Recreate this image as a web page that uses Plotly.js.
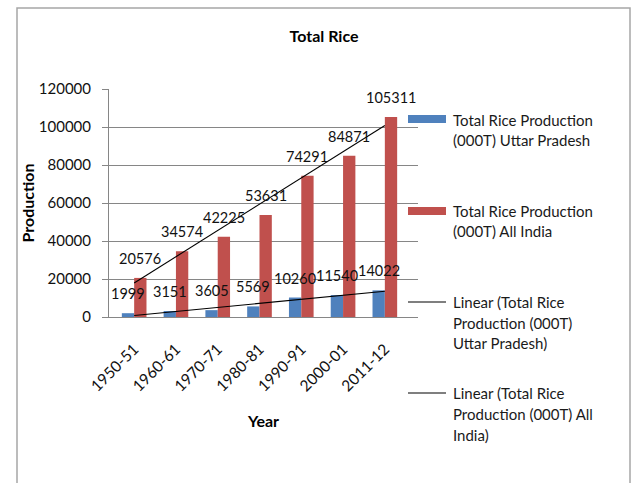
<!DOCTYPE html>
<html>
<head>
<meta charset="utf-8">
<script src="https://cdn.plot.ly/plotly-3.0.1.min.js"></script>
<style>html,body{margin:0;padding:0;background:#fff;}#chart{width:632px;height:483px;}</style>
</head>
<body>
<div id="chart"></div>
<script>
// ---- data ----
const categories = ["1950-51", "1960-61", "1970-71", "1980-81", "1990-91", "2000-01", "2011-12"];
const upValues = [1999, 3151, 3605, 5569, 10260, 11540, 14022];
const indiaValues = [20576, 34574, 42225, 53631, 74291, 84871, 105311];
const upName = "Total Rice Production (000T) Uttar Pradesh";
const indiaName = "Total Rice Production (000T) All India";
const yTicks = [0, 20000, 40000, 60000, 80000, 100000, 120000];

// least-squares linear trend (as Excel's "Linear" trendline), x = 1..n
function linearTrend(vals) {
  const n = vals.length;
  let sx = 0, sy = 0, sxy = 0, sxx = 0;
  vals.forEach((v, i) => { const x = i + 1; sx += x; sy += v; sxy += x * v; sxx += x * x; });
  const b = (n * sxy - sx * sy) / (n * sxx - sx * sx);
  const a = (sy - b * sx) / n;
  return vals.map((v, i) => a + b * (i + 1));
}

const W = 632, H = 483;
const M = {l: 109, r: 214, t: 89, b: 166};
const PW = W - M.l - M.r, PH = H - M.t - M.b;
const px = x => (x - M.l) / PW;
const py = y => (H - M.b - y) / PH;

const FONT = "Lato, 'Open Sans', sans-serif";
const BLUE = "#4F81BD", RED = "#C0504D";
const bargap = 0.41;
const half = (1 - bargap) / 4; // offset of each bar centre from category centre

const traces = [
  {type: "bar", x: categories, y: upValues, name: upName, marker: {color: BLUE}, showlegend: false, hoverinfo: "x+y"},
  {type: "bar", x: categories, y: indiaValues, name: indiaName, marker: {color: RED}, showlegend: false, hoverinfo: "x+y"},
  {type: "scatter", mode: "lines", x: categories, y: linearTrend(upValues), name: "Linear (" + upName + ")",
   line: {color: "#000", width: 1.1}, showlegend: false, hoverinfo: "skip"},
  {type: "scatter", mode: "lines", x: categories, y: linearTrend(indiaValues), name: "Linear (" + indiaName + ")",
   line: {color: "#000", width: 1.1}, showlegend: false, hoverinfo: "skip"}
];

const annotations = [];
const labelFont = {family: FONT, size: 14.5, color: "#111"};
upValues.forEach((v, i) => annotations.push({x: i - half, y: v, xref: "x", yref: "y", text: String(v),
  showarrow: false, yanchor: "bottom", yshift: 9, font: labelFont}));
indiaValues.forEach((v, i) => annotations.push({x: i + half, y: v, xref: "x", yref: "y", text: String(v),
  showarrow: false, yanchor: "bottom", yshift: 9, font: labelFont}));

// manual legend (Excel style)
const legend = [
  {kind: "bar", color: BLUE, y: 119, lines: ["Total Rice Production", "(000T) Uttar Pradesh"], ly: [120, 140]},
  {kind: "bar", color: RED, y: 211, lines: ["Total Rice Production", "(000T) All India"], ly: [211, 231]},
  {kind: "line", color: "#000", y: 302, lines: ["Linear (Total Rice", "Production (000T)", "Uttar Pradesh)"], ly: [302, 323, 343]},
  {kind: "line", color: "#000", y: 393, lines: ["Linear (Total Rice", "Production (000T) All", "India)"], ly: [393, 414, 435]}
];
const shapes = [];
legend.forEach(e => {
  if (e.kind === "bar") {
    shapes.push({type: "rect", xref: "paper", yref: "paper", x0: px(408), x1: px(446), y0: py(e.y + 4), y1: py(e.y - 4),
      fillcolor: e.color, line: {width: 0}});
  } else {
    shapes.push({type: "line", xref: "paper", yref: "paper", x0: px(408), x1: px(446), y0: py(e.y), y1: py(e.y),
      line: {color: e.color, width: 1.2}});
  }
  e.lines.forEach((t, k) => annotations.push({xref: "paper", yref: "paper", x: px(451), y: py(e.ly[k]),
    xanchor: "left", yanchor: "middle", text: t, showarrow: false, font: {family: FONT, size: 15, color: "#1a1a1a"}}));
});
// outer chart frame
shapes.push({type: "rect", xref: "paper", yref: "paper", x0: px(17), x1: px(630), y0: py(520), y1: py(8),
  line: {color: "#a6a6a6", width: 1.5}, fillcolor: "rgba(0,0,0,0)", layer: "below"});

const layout = {
  width: W, height: H,
  margin: M,
  paper_bgcolor: "#fff", plot_bgcolor: "#fff",
  barmode: "group", bargap: bargap, bargroupgap: 0,
  showlegend: false,
  font: {family: FONT, size: 15, color: "#111"},
  title: {text: "<b>Total Rice</b>", font: {family: FONT, size: 16, color: "#000"},
    xref: "container", x: 324 / W, xanchor: "center", yref: "container", y: 1 - 36 / H, yanchor: "middle"},
  xaxis: {
    type: "category", tickangle: -45, showline: true, linecolor: "#868686", linewidth: 1,
    ticks: "", showgrid: false, zeroline: false, ticklabelstandoff: 16,
    tickfont: {family: FONT, size: 15.5, color: "#111"},
    title: {text: "<b>Year</b>", font: {family: FONT, size: 16, color: "#000"}, standoff: 22}
  },
  yaxis: {
    range: [0, 120000], tickvals: yTicks, tickformat: "d", showgrid: true, gridcolor: "#868686", gridwidth: 1,
    showline: true, linecolor: "#868686", linewidth: 1, zeroline: false,
    ticks: "outside", ticklen: 6, tickcolor: "#868686", ticklabelstandoff: 8,
    tickfont: {family: FONT, size: 15, color: "#111"},
    title: {text: "<b>Production</b>", font: {family: FONT, size: 16, color: "#000"}, standoff: 0}
  },
  annotations: annotations,
  shapes: shapes
};

Plotly.newPlot("chart", traces, layout, {displayModeBar: false, staticPlot: true});
</script>
</body>
</html>
